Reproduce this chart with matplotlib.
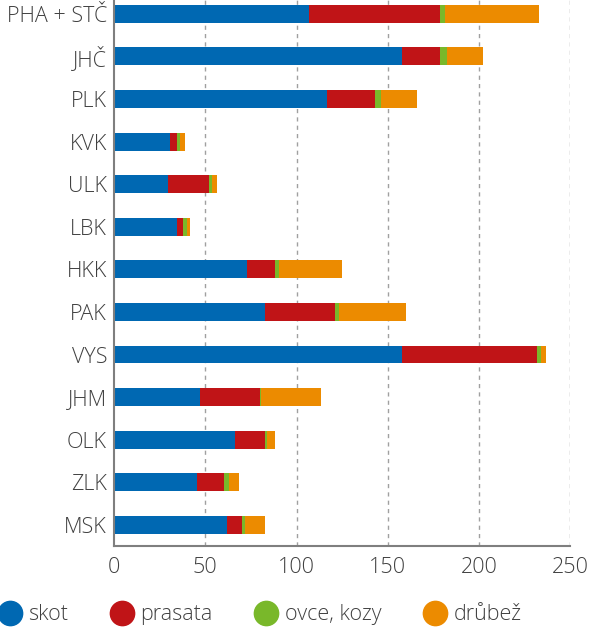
import matplotlib
matplotlib.use("Agg")
import matplotlib.pyplot as plt
from matplotlib.lines import Line2D
import numpy as np

plt.rcParams['font.family'] = ['Open Sans', 'DejaVu Sans']
plt.rcParams['font.weight'] = 'light'

regions = ['PHA + STČ', 'JHČ', 'PLK', 'KVK', 'ULK', 'LBK', 'HKK',
           'PAK', 'VYS', 'JHM', 'OLK', 'ZLK', 'MSK']
skot = [106.6, 157.8, 116.7, 30.7, 29.8, 34.3, 73.0, 82.7, 157.8, 47.1, 66.5, 45.5, 61.9]
prasata = [72.2, 21.0, 26.5, 3.8, 22.1, 3.7, 15.4, 38.6, 74.1, 33.1, 16.2, 14.6, 8.2]
ovce_kozy = [2.7, 3.8, 2.9, 1.7, 1.8, 2.0, 1.8, 2.0, 2.0, 0.5, 0.9, 2.9, 1.7]
drubez = [51.5, 19.4, 20.1, 2.9, 2.7, 1.6, 34.9, 36.5, 2.8, 32.5, 4.8, 5.3, 11.1]

series = [('skot', skot, '#0068b2'),
          ('prasata', prasata, '#c01417'),
          ('ovce, kozy', ovce_kozy, '#79b82a'),
          ('drůbež', drubez, '#ec8b00')]

text_col = '#404040'
axis_col = '#7f7f7f'

fig = plt.figure(figsize=(6, 6.3), dpi=100)
ax = fig.add_axes([0.19, 0.134, 0.7605, 0.866])

y = np.arange(len(regions))
left = np.zeros(len(regions))
for name, vals, col in series:
    ax.barh(y, vals, left=left, height=0.42, color=col, zorder=3)
    left += np.array(vals)

ax.set_xlim(0, 250)
ax.set_ylim(12.486, -0.325)
ax.set_xticks([0, 50, 100, 150, 200, 250])
ax.set_yticks(y)
ax.set_yticklabels(regions)
ax.tick_params(axis='both', length=0, labelsize=15.5, colors=text_col)
ax.tick_params(axis='x', pad=8)
ax.tick_params(axis='y', pad=5)

for v in [50, 100, 150, 200, 250]:
    ax.axvline(v, color='#a0a0a0', lw=1, ls=(0, (3, 3)), zorder=1)

for s in ['top', 'right']:
    ax.spines[s].set_visible(False)
for s in ['left', 'bottom']:
    ax.spines[s].set_color(axis_col)
    ax.spines[s].set_linewidth(1.5)
    ax.spines[s].set_zorder(4)

handles = [Line2D([], [], marker='o', ls='', markersize=17.5, color=col,
                  label=name) for name, vals, col in series]
fig.legend(handles=handles, loc='center left', bbox_to_anchor=(-0.005, 0.024),
           ncol=4, frameon=False, fontsize=15.5, labelcolor=text_col,
           handletextpad=0.25, columnspacing=1.9, handlelength=1.2,
           borderaxespad=0, borderpad=0)

fig.savefig('out.png', dpi=100)
